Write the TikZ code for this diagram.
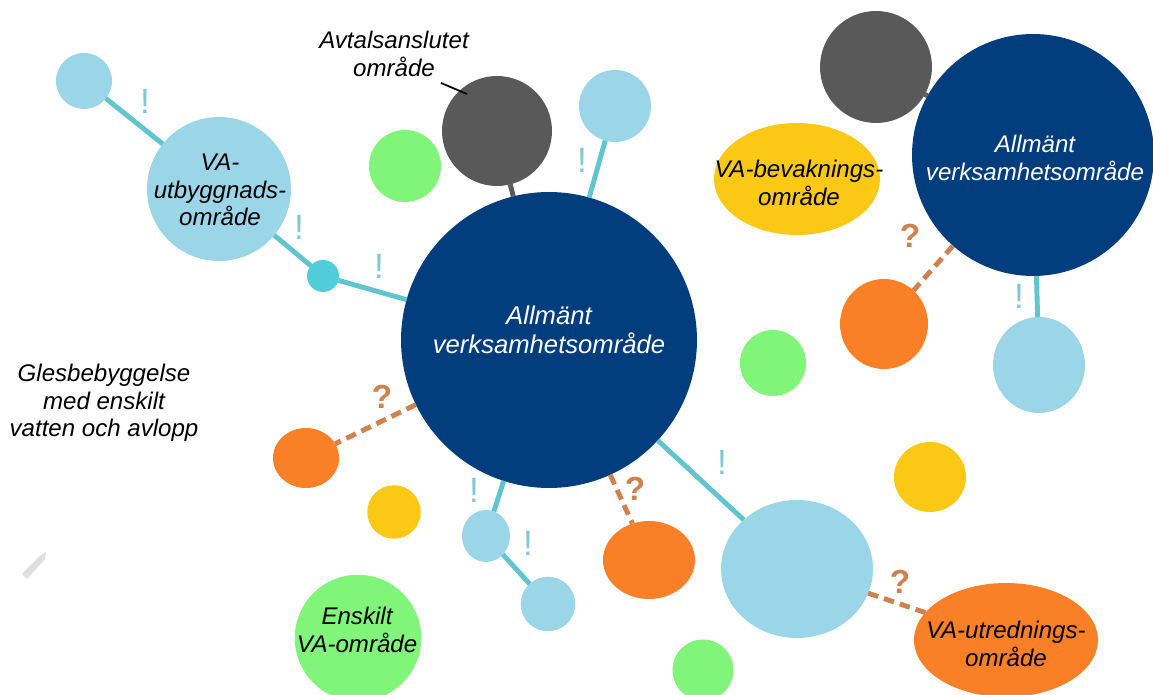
\documentclass[tikz,border=0pt]{standalone}
\usepackage{fontspec}
\setmainfont{Liberation Sans}
\usepackage{tikz}
\usetikzlibrary{shapes}
\definecolor{navy}{RGB}{2,62,125}
\definecolor{skyblue}{RGB}{155,214,232}
\definecolor{linkteal}{RGB}{97,197,207}
\definecolor{dotteal}{RGB}{80,205,216}
\definecolor{exclteal}{RGB}{130,200,212}
\definecolor{darkgray}{RGB}{89,89,89}
\definecolor{lightgreen}{RGB}{128,245,122}
\definecolor{sunyellow}{RGB}{252,200,22}
\definecolor{brightorange}{RGB}{250,128,40}
\definecolor{rust}{RGB}{205,130,80}
\tikzstyle{blob} = [circle, inner sep = 0pt, outer sep = 0pt]
\tikzstyle{oval} = [ellipse, inner sep = 0pt, outer sep = 0pt]
\tikzstyle{lbl} = [align = center, inner sep = 0pt, font = \itshape\fontsize{13.7}{15.6}\selectfont]
\tikzstyle{biglbl} = [lbl, text = white, font = \itshape\fontsize{14.6}{16.2}\selectfont]
\tikzstyle{link} = [draw = linkteal, line width = 2.8pt]
\tikzstyle{maybe} = [draw = rust, line width = 2.8pt, dash pattern = on 6pt off 3.5pt]
\tikzstyle{pointer} = [draw, line width = 1pt]
\tikzstyle{excl} = [text = exclteal, inner sep = 0pt, font = \fontsize{20}{20}\selectfont]
\tikzstyle{quest} = [text = rust, inner sep = 0pt, font = \bfseries\fontsize{19}{19}\selectfont]

\begin{document}
\begin{tikzpicture}[x = 0.02cm, y = -0.02cm]
			\useasboundingbox (0, 0) rectangle (1153, 695);
			% Place areas
			\node [blob, fill = navy, minimum size = 5.92cm] (main) at (549, 340) {};
			\node [blob, fill = navy, minimum size = 4.84cm] (mainright) at (1033, 155) {};
			\node [blob, fill = skyblue, minimum size = 1.12cm] (skytl) at (84, 81) {};
			\node [blob, fill = skyblue, minimum size = 2.88cm] (vautb) at (219, 189) {};
			\node [blob, fill = dotteal, minimum size = 0.64cm] (tealdot) at (323, 276) {};
			\node [blob, fill = darkgray, minimum size = 2.2cm] (avtal) at (497, 131) {};
			\node [blob, fill = lightgreen, minimum size = 1.44cm] (greentop) at (405, 166) {};
			\node [blob, fill = skyblue, minimum size = 1.44cm] (skytop) at (615, 106) {};
			\node [blob, fill = darkgray, minimum size = 2.24cm] (grayright) at (876, 67) {};
			\node [oval, fill = sunyellow, minimum width = 3.32cm, minimum height = 2.24cm] (bevak) at (797, 179) {};
			\node [oval, fill = brightorange, minimum width = 1.76cm, minimum height = 1.8cm] (orangemid) at (884, 324) {};
			\node [blob, fill = lightgreen, minimum size = 1.32cm] (greenmid) at (773, 363) {};
			\node [oval, fill = skyblue, minimum width = 1.84cm, minimum height = 1.92cm] (skyright) at (1039, 365) {};
			\node [oval, fill = brightorange, minimum width = 1.32cm, minimum height = 1.2cm] (orangeleft) at (306, 458) {};
			\node [blob, fill = sunyellow, minimum size = 1.07cm] (yellowleft) at (394, 512) {};
			\node [oval, fill = skyblue, minimum width = 0.96cm, minimum height = 1.04cm] (skysmall) at (486, 536) {};
			\node [blob, fill = skyblue, minimum size = 1.09cm] (skylow) at (548, 604) {};
			\node [oval, fill = brightorange, minimum width = 1.84cm, minimum height = 1.56cm] (orangelow) at (649, 560) {};
			\node [blob, fill = lightgreen, minimum size = 2.53cm] (enskilt) at (358, 638) {};
			\node [blob, fill = lightgreen, minimum size = 1.22cm] (greenlow) at (703, 670) {};
			\node [oval, fill = skyblue, minimum width = 3.04cm, minimum height = 2.76cm] (skybig) at (797, 569) {};
			\node [oval, fill = sunyellow, minimum width = 1.44cm, minimum height = 1.4cm] (yellowright) at (930, 477) {};
			\node [oval, fill = brightorange, minimum width = 3.68cm, minimum height = 2.28cm] (utredn) at (1006, 640) {};
			\fill [gray!25] (22, 574) -- (40, 556) -- (46, 552) -- (45, 559) -- (27, 579) -- cycle;
			
			% Texts
			\node [biglbl] (maintxt) at (549, 330) {Allmänt\\verksamhetsområde};
			\node [lbl, text = white] (mainrighttxt) at (1035, 158) {Allmänt\\verksamhetsområde};
			\node [lbl] (vautbtxt) at (220, 190) {VA-\\utbyggnads-\\område};
			\node [lbl] (avtaltxt) at (394, 54) {Avtalsanslutet\\område};
			\node [lbl] (bevaktxt) at (799, 183) {VA-bevaknings-\\område};
			\node [lbl] (glestxt) at (104, 403) {Glesbebyggelse\\med enskilt\\vatten och avlopp};
			\node [lbl] (enskilttxt) at (357, 630) {Enskilt\\VA-område};
			\node [lbl] (utredntxt) at (1006, 644) {VA-utrednings-\\område};
			
			% Draw edges
			\path [link] (skytl) -- (vautb);
			\path [link] (vautb) -- (tealdot);
			\path [link] (tealdot) -- (main);
			\path [link] (skytop) -- (main);
			\path [link] (main) -- (skysmall);
			\path [link] (skysmall) -- (skylow);
			\path [link] (main) -- (skybig);
			\path [link] (mainright) -- (skyright);
			\path [draw = darkgray, line width = 2.8pt] (avtal) -- (main);
			\path [draw = darkgray, line width = 2.8pt] (grayright) -- (mainright);
			\path [maybe] (main) -- (orangeleft);
			\path [maybe] (main) -- (orangelow);
			\path [maybe] (mainright) -- (orangemid);
			\path [maybe] (skybig) -- (utredn);
			\coordinate (ptrstart) at (441, 83);
			\coordinate (ptrend) at (467, 94);
			\path [pointer] (ptrstart) -- (ptrend);
			
			% Marks
			\node [excl] (x1) at (145, 101) {!};
			\node [excl] (x2) at (299, 227) {!};
			\node [excl] (x3) at (379, 266) {!};
			\node [excl] (x4) at (582, 160) {!};
			\node [excl] (x5) at (474, 490) {!};
			\node [excl] (x6) at (528, 543) {!};
			\node [excl] (x7) at (722, 462) {!};
			\node [excl] (x8) at (1019, 296) {!};
			\node [quest] (q1) at (382, 397) {?};
			\node [quest] (q2) at (635, 489) {?};
			\node [quest] (q3) at (910, 236) {?};
			\node [quest] (q4) at (900, 582) {?};
		\end{tikzpicture}
\end{document}
